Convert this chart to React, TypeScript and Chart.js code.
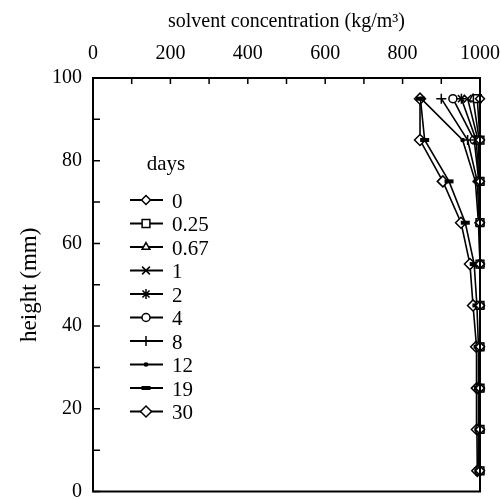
import React, { useEffect, useRef } from 'react';
import { Chart, registerables } from 'chart.js';
import { drawPoint } from 'chart.js/helpers';

Chart.register(...registerables);

// ---- data ----
const heights = [5, 15, 25, 35, 45, 55, 65, 75, 85, 95];
const days = ['0', '0.25', '0.67', '1', '2', '4', '8', '12', '19', '30'];
const conc_0 = [1000, 1000, 1000, 1000, 1000, 1000, 1000, 1000, 1000, 1000];
const conc_025 = [1000, 1000, 1000, 1000, 1000, 1000, 1000, 1000, 1000, 993];
const conc_067 = [1000, 1000, 1000, 1000, 1000, 1000, 1000, 1000, 998, 982];
const conc_1 = [1000, 1000, 1000, 1000, 1000, 1000, 1000, 1000, 995, 968];
const conc_2 = [1000, 1000, 1000, 1000, 1000, 1000, 1000, 998, 990, 952];
const conc_4 = [1000, 1000, 1000, 1000, 1000, 1000, 1000, 997, 985, 930];
const conc_8 = [1000, 1000, 1000, 1000, 1000, 1000, 998, 993, 968, 900];
const conc_12 = [1000, 1000, 1000, 1000, 1000, 1000, 996, 988, 955, 848];
const conc_19 = [997, 997, 996, 995, 992, 985, 962, 920, 857, 846];
const conc_30 = [993, 992, 992, 990, 982, 974, 951, 904, 845, 845];
const seriesValues = [conc_0, conc_025, conc_067, conc_1, conc_2, conc_4, conc_8, conc_12, conc_19, conc_30];
const xTickValues = [0, 200, 400, 600, 800, 1000];
const yTickValues = [0, 20, 40, 60, 80, 100];

// ---- styles ----
const FONT = '"Liberation Serif", "Times New Roman", Times, serif';
const markers = [
  { pointStyle: 'rectRot', radius: 4.5, fill: '#fff', bw: 1.5 },
  { pointStyle: 'rect', radius: 5.5, fill: '#fff', bw: 1.5 },
  { pointStyle: 'triangle', radius: 4.5, fill: '#fff', bw: 1.5 },
  { pointStyle: 'crossRot', radius: 5.5, fill: '#fff', bw: 1.5 },
  { pointStyle: 'star', radius: 5, fill: '#fff', bw: 1.5 },
  { pointStyle: 'circle', radius: 4, fill: '#fff', bw: 1.5 },
  { pointStyle: 'cross', radius: 5, fill: '#fff', bw: 1.5 },
  { pointStyle: 'rect', radius: 2.2, fill: '#000', bw: 1 },
  { pointStyle: 'line', radius: 4.5, fill: '#000', bw: 4 },
  { pointStyle: 'rectRot', radius: 5.5, fill: '#fff', bw: 1.5 },
];

const framePlugin = {
  id: 'frameAndLegend',
  afterDraw(chart: any) {
    const { ctx, chartArea: a, scales } = chart;
    const xs = scales.x;
    const ys = scales.y;
    ctx.save();
    ctx.strokeStyle = '#000';
    ctx.lineWidth = 2;
    ctx.strokeRect(a.left, a.top, a.right - a.left, a.bottom - a.top);
    ctx.lineWidth = 1.5;
    ctx.beginPath();
    for (let v = xs.min; v <= xs.max; v += 100) {
      const px = xs.getPixelForValue(v);
      ctx.moveTo(px, a.top);
      ctx.lineTo(px, a.top + 6);
    }
    for (let v = ys.min; v <= ys.max; v += 10) {
      const py = ys.getPixelForValue(v);
      ctx.moveTo(a.left, py);
      ctx.lineTo(a.left + 7, py);
    }
    ctx.stroke();

    // legend
    const lx0 = a.left + 37;
    const lx1 = a.left + 70;
    const mx = a.left + 53;
    const tx = a.left + 79;
    const y0 = a.top + 122;
    const dy = 23.5;
    ctx.fillStyle = '#000';
    ctx.font = '21px ' + FONT;
    ctx.textAlign = 'center';
    ctx.textBaseline = 'middle';
    ctx.fillText('days', a.left + 73, a.top + 86);
    ctx.textAlign = 'left';
    days.forEach((d, i) => {
      const y = y0 + i * dy;
      const m = markers[i];
      ctx.strokeStyle = '#000';
      ctx.lineWidth = 2;
      ctx.beginPath();
      ctx.moveTo(lx0, y);
      ctx.lineTo(lx1, y);
      ctx.stroke();
      ctx.fillStyle = m.fill;
      ctx.strokeStyle = '#000';
      ctx.lineWidth = m.bw;
      drawPoint(ctx, { pointStyle: m.pointStyle, radius: m.radius, rotation: 0, borderWidth: m.bw } as any, mx, y);
      ctx.fillStyle = '#000';
      ctx.fillText(d, tx, y + 2);
    });
    ctx.restore();
  },
};

export default function App() {
  const ref = useRef<HTMLCanvasElement>(null);
  useEffect(() => {
    if (!ref.current) return;
    const datasets = seriesValues.map((vals, i) => ({
      label: days[i],
      data: vals.map((v, j) => ({ x: v, y: heights[j] })),
      showLine: true,
      borderColor: '#000',
      borderWidth: 1.6,
      pointStyle: markers[i].pointStyle,
      pointRadius: markers[i].radius,
      pointBackgroundColor: markers[i].fill,
      pointBorderColor: '#000',
      pointBorderWidth: markers[i].bw,
      clip: false,
    }));
    const chart = new Chart(ref.current, {
      type: 'scatter',
      data: { datasets } as any,
      options: {
        responsive: false,
        animation: false,
        devicePixelRatio: 1,
        layout: { padding: { left: 0, right: 21, top: 0, bottom: 7 } },
        plugins: { legend: { display: false }, tooltip: { enabled: false } },
        scales: {
          x: {
            type: 'linear',
            position: 'top',
            min: 0,
            max: 1000,
            afterBuildTicks: (s: any) => { s.ticks = xTickValues.map((v) => ({ value: v })); },
            afterFit: (s: any) => { s.height = 78; s.paddingLeft = 0; s.paddingRight = 0; },
            ticks: { color: '#000', font: { family: FONT, size: 20 }, padding: 12, maxRotation: 0, callback: (v: any) => String(v) },
            grid: { display: false, drawTicks: false },
            border: { display: false },
            title: {
              display: true,
              text: 'solvent concentration (kg/m³)',
              color: '#000',
              font: { family: FONT, size: 20 },
              padding: { top: 10, bottom: 0 },
            },
          },
          y: {
            type: 'linear',
            min: 0,
            max: 100,
            afterBuildTicks: (s: any) => { s.ticks = yTickValues.map((v) => ({ value: v })); },
            afterFit: (s: any) => { s.width = 93; s.paddingTop = 0; s.paddingBottom = 0; },
            ticks: { color: '#000', font: { family: FONT, size: 20 }, padding: 11, callback: (v: any) => String(v) },
            grid: { display: false, drawTicks: false },
            border: { display: false },
            title: {
              display: true,
              text: 'height (mm)',
              color: '#000',
              font: { family: FONT, size: 23 },
              padding: { top: 16, bottom: 0 },
            },
          },
        },
      } as any,
      plugins: [framePlugin],
    });
    return () => chart.destroy();
  }, []);
  return (
    <div style={{ position: 'fixed', left: 0, top: 0, width: 501, height: 500, background: '#fff' }}>
      <canvas ref={ref} width={501} height={500} style={{ display: 'block' }} />
    </div>
  );
}
